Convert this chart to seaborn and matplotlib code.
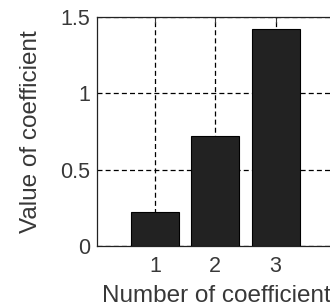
import matplotlib
matplotlib.use("Agg")
import matplotlib.pyplot as plt
import seaborn as sns
import pandas as pd

# values
coef_number = [1, 2, 3]
coef_value = [0.224, 0.719, 1.418]
y_ticks = [0, 0.5, 1, 1.5]
y_tick_labels = ["0", "0.5", "1", "1.5"]


def make_bar_chart(output_path):
    sns.set_style("white")
    plt.rcParams["font.family"] = ["Liberation Sans", "DejaVu Sans"]
    df = pd.DataFrame({"n": coef_number, "v": coef_value})

    fig = plt.figure(figsize=(3.30, 3.07), dpi=100)
    ax = fig.add_axes([97 / 330, 1 - 246 / 307, (336 - 97) / 330, (246 - 16.7) / 307])

    sns.barplot(data=df, x="n", y="v", native_scale=True, width=0.8,
                color="#222222", edgecolor="black", linewidth=0.8,
                saturation=1, ax=ax, zorder=3)

    ax.set_xlim(0.04, 4)
    ax.set_ylim(0, 1.5)
    ax.set_xticks(coef_number)
    ax.set_xticklabels([str(c) for c in coef_number])
    ax.set_yticks(y_ticks)
    ax.set_yticklabels(y_tick_labels)
    ax.grid(True, color="black", linestyle=(0, (4, 2.5)), linewidth=0.9, zorder=0)
    ax.set_axisbelow(True)
    ax.tick_params(direction="in", top=True, right=True, length=4,
                   labelsize=15.5, colors="#383838", pad=5)
    ax.tick_params(axis="x", pad=7)
    for s in ax.spines.values():
        s.set_color("#222222")
        s.set_linewidth(0.9)
    ax.set_xlabel("Number of coefficient", fontsize=17.5, color="#383838", labelpad=6)
    ax.set_ylabel("Value of coefficient", fontsize=17.5, color="#383838", labelpad=13)
    fig.savefig(output_path, dpi=100)


def main():
    make_bar_chart("out.png")


if __name__ == "__main__":
    main()
